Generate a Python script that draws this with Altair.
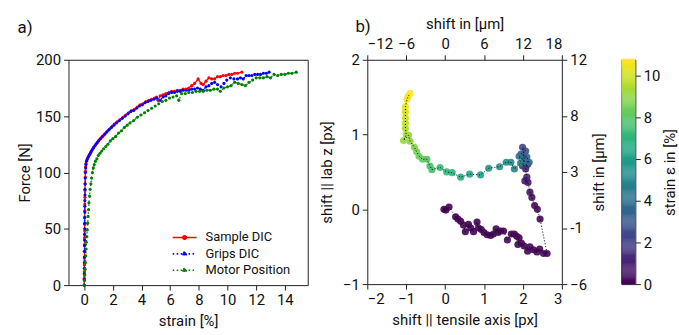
import altair as alt
import pandas as pd

FONT = "Roboto"

# ---------------- panel a) force vs strain ----------------
sample_strain = [0, 0, 0.01, 0.01, 0.01, 0.02, 0.02, 0.02, 0.03, 0.03, 0.03, 0.04, 0.04, 0.05, 0.05, 0.06, 0.07, 0.08, 0.10, 0.12,
                 0.18, 0.25, 0.33, 0.42, 0.5, 0.6, 0.7, 0.8, 0.92, 1.05, 1.2, 1.35, 1.5, 1.65, 1.8, 1.95, 2.1, 2.3, 2.5, 2.7,
                 2.9, 3.1, 3.3, 3.5, 3.7, 3.9, 4.1, 4.3, 4.5, 4.7, 4.9, 5.05, 5.15, 5.3, 5.5, 5.7, 5.9, 6.1, 6.3, 6.5,
                 6.7, 6.9, 7.1, 7.3, 7.5, 7.7, 7.95, 8.15, 8.3, 8.5, 8.7, 8.9, 9.1, 9.3, 9.5, 9.7, 9.9, 10.1, 10.3, 10.5,
                 10.7, 11.0]
sample_force = [0, 6, 12, 18, 24, 30, 36, 42, 48, 54, 60, 66, 72, 78, 84, 90, 96, 101, 105, 108,
                111, 113, 115, 117, 119, 121, 123, 125, 127, 129, 131, 133, 135, 137, 139, 141, 143, 145, 147, 149,
                151, 153, 155, 156, 158, 160, 161, 163, 164, 165, 166, 167, 164, 168, 169, 170, 171, 172, 172, 173,
                173, 174, 174, 175, 177, 179, 183, 179, 178, 181, 184, 183, 183, 185, 185, 186, 186, 187, 187, 188,
                188, 189]

grips_strain = [0, 0, 0, 0.01, 0.01, 0.01, 0.02, 0.02, 0.02, 0.02, 0.03, 0.03, 0.03, 0.04, 0.04, 0.04, 0.05, 0.05, 0.06, 0.07,
                0.08, 0.10, 0.12, 0.16, 0.22, 0.3, 0.38, 0.46, 0.55, 0.65, 0.76, 0.88, 1.0, 1.13, 1.27, 1.42, 1.57, 1.73, 1.9, 2.07,
                2.25, 2.45, 2.65, 2.85, 3.05, 3.25, 3.45, 3.65, 3.85, 4.05, 4.25, 4.45, 4.65, 4.85, 5.05, 5.3, 5.5, 5.7, 5.9, 6.1,
                6.3, 6.5, 6.7, 6.9, 7.1, 7.3, 7.5, 7.7, 7.9, 8.1, 8.3, 8.5, 8.7, 8.9, 9.1, 9.3, 9.55, 9.75, 9.95, 10.2,
                10.45, 10.7, 10.9, 11.1, 11.3, 11.5, 11.7, 11.9, 12.1, 12.3, 12.5, 12.7, 12.9]
grips_force = [0, 5, 10, 15, 20, 25, 30, 35, 40, 45, 50, 55, 60, 65, 70, 75, 80, 85, 90, 95,
               100, 104, 107, 110, 112, 114, 116, 118, 120, 122, 124, 126, 128, 130, 132, 134, 136, 138, 140, 142,
               144, 146, 148, 150, 152, 154, 155, 157, 159, 160, 162, 163, 164, 165, 166, 164, 167, 168, 170, 171,
               171, 172, 172, 173, 173, 173, 174, 174, 175, 174, 173, 176, 177, 179, 180, 178, 176, 179, 182, 184,
               183, 183, 184, 183, 186, 186, 186, 187, 187, 187, 188, 188, 189]

motor_strain = [0, 0.02, 0.04, 0.06, 0.08, 0.10, 0.13, 0.15, 0.18, 0.21, 0.24, 0.27, 0.30, 0.33, 0.37, 0.41, 0.46, 0.51, 0.57, 0.63,
                0.70, 0.78, 0.88, 0.98, 1.1, 1.22, 1.35, 1.5, 1.65, 1.82, 2.0, 2.2, 2.4, 2.6, 2.8, 3.0, 3.2, 3.45, 3.7, 3.95,
                4.2, 4.45, 4.7, 4.95, 5.2, 5.45, 5.7, 5.95, 6.2, 6.45, 6.6, 6.8, 7.05, 7.3, 7.55, 7.8, 8.05, 8.3, 8.55, 8.8,
                9.05, 9.3, 9.5, 9.75, 10.0, 10.25, 10.5, 10.75, 11.0, 11.25, 11.5, 11.75, 12.0, 12.25, 12.5, 12.75, 13.0, 13.25, 13.5, 13.75,
                14.0, 14.25, 14.5, 14.8]
motor_force = [0, 4, 9, 14, 20, 26, 32, 38, 43, 49, 55, 61, 67, 73, 79, 85, 90, 95, 100, 104,
               107, 110, 112, 115, 117, 119, 121, 123, 125, 128, 130, 132, 135, 137, 140, 142, 144, 146, 149, 151,
               153, 155, 157, 159, 161, 163, 164, 166, 167, 168, 164, 170, 170, 171, 171, 172, 172, 172, 173, 173,
               174, 174, 172, 175, 176, 177, 180, 179, 178, 177, 180, 182, 184, 184, 184, 185, 184, 187, 186, 187,
               187, 188, 188, 189]

series_names = ["Sample DIC", "Grips DIC", "Motor Position"]
series_colors = ["#ff0000", "#0000ff", "#008000"]
series_dash = [[1, 0], [1.5, 2.5], [1.5, 2.5]]

rows = []
for name, xs, ys in zip(series_names,
                        [sample_strain, grips_strain, motor_strain],
                        [sample_force, grips_force, motor_force]):
    for i, (a, b) in enumerate(zip(xs, ys)):
        rows.append({"series": name, "strain": a, "force": b, "idx": i})
df_a = pd.DataFrame(rows)

xa = alt.X("strain:Q", scale=alt.Scale(domain=[-1.1, 15.6], nice=False, zero=False),
           axis=alt.Axis(values=[0, 2, 4, 6, 8, 10, 12, 14], title="strain [%]", titlePadding=6))
ya = alt.Y("force:Q", scale=alt.Scale(domain=[0, 200], nice=False),
           axis=alt.Axis(values=[0, 50, 100, 150, 200], title="Force [N]", titlePadding=3))

color_a = alt.Scale(domain=series_names, range=series_colors)

# per-entry symbol colour for the (single) legend, taken from the series lists
color_expr = " : ".join(f"datum.value === '{n}' ? '{c}'" for n, c in zip(series_names[:-1], series_colors[:-1])) \
    + f" : '{series_colors[-1]}'"

legend_a = alt.Legend(
    title=None, orient="none", legendX=108, legendY=170, values=series_names,
    symbolType="M-1.5,0L1.5,0M-0.22,0A0.22,0.22,0,1,0,0.22,0A0.22,0.22,0,1,0,-0.22,0Z",
    symbolSize=256, symbolStrokeWidth=1.6,
    symbolStrokeColor=alt.ExprRef(expr=color_expr),
    symbolFillColor=alt.ExprRef(expr=color_expr),
    labelFontSize=13, labelFont=FONT, labelColor="#111", rowPadding=0.5, labelOffset=12,
)

lines_a = alt.Chart(df_a).mark_line(strokeWidth=1.3).encode(
    x=xa, y=ya,
    color=alt.Color("series:N", scale=color_a, legend=None),
    strokeDash=alt.StrokeDash("series:N", scale=alt.Scale(domain=series_names, range=series_dash),
                              legend=legend_a),
    order="idx:Q",
)
points_a = alt.Chart(df_a).mark_circle(size=10, opacity=1).encode(
    x=xa, y=ya,
    fill=alt.Fill("series:N", scale=color_a, legend=None),
)
panel_a = alt.layer(lines_a, points_a).properties(
    width=241, height=227,
    title=alt.TitleParams("a)", anchor="start", frame="bounds", fontSize=17, font=FONT,
                          fontWeight="normal", offset=16, color="#111"),
)

# ---------------- panel b) shift trajectory ----------------
shift_x = [-0.03, 0.02, 0.10, 0.27, 0.33, 0.40, 0.47, 0.52, 0.60, 0.66, 0.73, 0.82, 0.86, 0.93, 1.00, 1.08, 1.17, 1.24, 1.31, 1.36,
           1.42, 1.50, 1.60, 1.70, 1.78, 1.84, 1.90, 1.87, 1.96, 2.03, 2.12, 2.18, 2.27, 2.36, 2.43, 2.53, 2.62,
           2.44, 2.37, 2.30, 2.23, 2.18, 2.13, 2.05, 2.10, 2.07, 2.12, 1.99, 2.03, 1.99, 2.07, 1.95, 2.10, 2.16, 2.05,
           1.90, 1.94, 1.78, 1.69, 1.57, 1.40, 1.12, 0.91, 0.63, 0.40, 0.18, 0.04, -0.13, -0.34, -0.39, -0.47, -0.58,
           -0.67, -0.73, -0.79, -0.90, -0.94, -1.07, -1.00, -1.02, -1.02, -1.02, -1.02, -1.02, -0.98, -0.95, -0.90]
shift_z = [0.00, -0.01, 0.03, -0.10, -0.13, -0.16, -0.21, -0.30, -0.20, -0.25, -0.30, -0.17, -0.25, -0.27, -0.31, -0.34, -0.35, -0.33, -0.26, -0.31,
           -0.29, -0.29, -0.41, -0.33, -0.33, -0.36, -0.38, -0.47, -0.45, -0.49, -0.56, -0.50, -0.54, -0.57, -0.53, -0.59, -0.59,
           -0.13, 0.00, 0.05, 0.16, 0.23, 0.36, 0.38, 0.43, 0.54, 0.60, 0.58, 0.69, 0.83, 0.78, 0.74, 0.70, 0.63, 0.64,
           0.71, 0.62, 0.54, 0.63, 0.63, 0.57, 0.55, 0.46, 0.47, 0.43, 0.49, 0.50, 0.56, 0.53, 0.58, 0.67, 0.67,
           0.71, 0.77, 0.83, 0.91, 0.99, 0.92, 1.00, 1.08, 1.15, 1.22, 1.30, 1.37, 1.47, 1.51, 1.55]
strain_b = [0.0, 0.0, 0.0, 0.01, 0.01, 0.01, 0.02, 0.02, 0.02, 0.03, 0.03, 0.03, 0.04, 0.04, 0.04, 0.05, 0.05, 0.05, 0.06, 0.06,
            0.06, 0.07, 0.07, 0.08, 0.08, 0.08, 0.09, 0.09, 0.10, 0.10, 0.11, 0.11, 0.12, 0.12, 0.13, 0.14, 0.15,
            0.2, 0.25, 0.3, 0.4, 0.5, 0.6, 0.7, 0.8, 1.0, 1.3, 1.6, 1.9, 2.2, 2.6, 3.0, 3.3, 3.7, 4.0,
            4.3, 4.6, 4.9, 5.1, 5.3, 5.6, 5.9, 6.1, 6.4, 6.7, 6.9, 7.1, 7.3, 7.5, 7.7, 7.9, 8.1,
            8.3, 8.5, 8.7, 8.9, 9.0, 9.1, 9.3, 9.5, 9.7, 9.9, 10.1, 10.3, 10.5, 10.6, 10.76]

df_b = pd.DataFrame({"x": shift_x, "z": shift_z, "strain": strain_b, "idx": list(range(len(shift_x)))})

STRAIN_MAX = 10.76
viridis = alt.Scale(scheme="viridis", domain=[0, STRAIN_MAX])

xb = alt.X("x:Q", scale=alt.Scale(domain=[-2, 3], nice=False, zero=False),
           axis=alt.Axis(values=[-2, -1, 0, 1, 2, 3], title="shift || tensile axis [px]", titlePadding=6))
yb = alt.Y("z:Q", scale=alt.Scale(domain=[-1, 2], nice=False, zero=False),
           axis=alt.Axis(values=[-1, 0, 1, 2], title="shift || lab z [px]", titlePadding=8))

pts_b = alt.Chart(df_b).mark_circle(size=52, opacity=0.9).encode(
    x=xb, y=yb, color=alt.Color("strain:Q", scale=viridis, legend=None))
line_b = alt.Chart(df_b).mark_line(color="black", strokeWidth=1, strokeDash=[1, 2]).encode(
    x=xb, y=yb, order="idx:Q")
um_b = alt.Chart(df_b).transform_calculate(xu="datum.x*6", zu="datum.z*6").mark_point(opacity=0).encode(
    x=alt.X("xu:Q", scale=alt.Scale(domain=[-12, 18], nice=False, zero=False),
            axis=alt.Axis(orient="top", values=[-12, -6, 0, 6, 12, 18], title="shift in [µm]", titlePadding=6)),
    y=alt.Y("zu:Q", scale=alt.Scale(domain=[-6, 12], nice=False, zero=False),
            axis=alt.Axis(orient="right", values=[-6, -1.5, 3, 7.5, 12], title="shift in [µm]", titleAngle=-90,
                          titlePadding=20,
                          labelExpr="datum.value==7.5?'8':(datum.value==-1.5?'-1':datum.label)")),
)
panel_b = alt.layer(alt.layer(pts_b, line_b), um_b).resolve_scale(x="independent", y="independent").properties(
    width=196, height=226,
    title=alt.TitleParams("b)", anchor="start", frame="bounds", fontSize=17, font=FONT,
                          fontWeight="normal", dx=36, dy=24, color="#111"),
)

# ---------------- colorbar ----------------
cb_lo = [i * 0.05 for i in range(216)]
cb_df = pd.DataFrame({"s": cb_lo, "s2": [v + 0.06 for v in cb_lo]})
colorbar = alt.Chart(cb_df).mark_rect().encode(
    y=alt.Y("s:Q", scale=alt.Scale(domain=[0, STRAIN_MAX], nice=False, zero=False),
            axis=alt.Axis(orient="right", values=[0, 2, 4, 6, 8, 10], title="strain ε in [%]", titleAngle=-90,
                          titlePadding=18)),
    y2="s2:Q",
    color=alt.Color("s:Q", scale=viridis, legend=None),
).properties(width=14, height=226)

chart = alt.hconcat(panel_a, panel_b, colorbar, spacing=60, bounds="flush").properties(
    padding={"left": 17, "top": 14, "right": 0, "bottom": 0}
).configure_view(stroke="#222", strokeWidth=1).configure_axis(
    grid=False, domain=False, tickColor="#222", tickSize=5, tickWidth=1,
    labelFont=FONT, labelFontSize=15, labelColor="#111", labelPadding=3,
    titleFont=FONT, titleFontSize=15, titleFontWeight="normal", titleColor="#111",
)

chart.save("out.html", embed_options={"renderer": "svg", "actions": False})
